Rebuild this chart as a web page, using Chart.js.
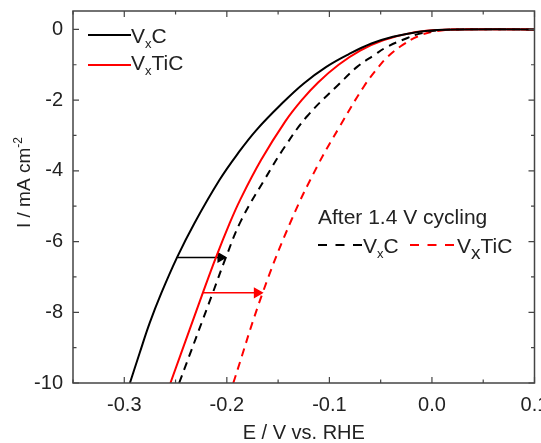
<!DOCTYPE html>
<html>
<head>
<meta charset="utf-8">
<script src="https://cdn.jsdelivr.net/npm/chart.js@4.4.0/dist/chart.umd.min.js"></script>
<style>
  html, body { margin: 0; padding: 0; background: #fff; }
  #wrap { width: 541px; height: 443px; }
</style>
</head>
<body>
<div id="wrap"><canvas id="lsvChart"></canvas></div>
<script>
// tick labels / tick positions
var xTicks = [-0.3, -0.2, -0.1, 0.0, 0.1];
var xMinorTicks = [-0.35, -0.25, -0.15, -0.05, 0.05];
var yTicks = [0, -2, -4, -6, -8, -10];
var yMinorTicks = [-1, -3, -5, -7, -9];

// VxC (solid black)
var vxcE = [-0.2945, -0.2850, -0.2752, -0.2639, -0.2484, -0.2316, -0.2072, -0.1890, -0.1710, -0.1460, -0.1250, -0.1030, -0.0810, -0.0590, -0.0380, -0.0150, 0.005, 0.025, 0.100];
var vxcI = [-10, -9.15, -8.30, -7.46, -6.44, -5.48, -4.26, -3.50, -2.84, -2.09, -1.53, -1.06, -0.70, -0.40, -0.21, -0.08, -0.02, 0, 0];

// VxTiC (solid red)
var vxticE = [-0.2550, -0.2235, -0.2105, -0.1975, -0.1870, -0.1665, -0.1430, -0.1270, -0.1110, -0.0910, -0.0700, -0.0470, -0.0200, 0.003, 0.022, 0.100];
var vxticI = [-10, -7.46, -6.44, -5.50, -4.82, -3.69, -2.60, -2.00, -1.50, -1.00, -0.60, -0.30, -0.10, -0.02, 0, 0];

// after 1.4 V cycling, VxC (dashed black)
var vxcCycE = [-0.2465, -0.2138, -0.2008, -0.1860, -0.1635, -0.1435, -0.1215, -0.0900, -0.0730, -0.0565, -0.0435, -0.0245, -0.0105, 0.009, 0.027, 0.100];
var vxcCycI = [-10, -7.46, -6.44, -5.40, -4.26, -3.32, -2.45, -1.53, -1.06, -0.73, -0.49, -0.25, -0.11, -0.02, 0, 0];

// after 1.4 V cycling, VxTiC (dashed red)
var vxticCycE = [-0.1937, -0.1652, -0.1370, -0.1120, -0.0900, -0.0665, -0.0520, -0.0430, -0.0285, -0.0140, 0.004, 0.028, 0.100];
var vxticCycI = [-10, -7.46, -5.39, -3.88, -2.75, -1.62, -1.06, -0.77, -0.44, -0.20, -0.05, 0, 0];

// shift arrows
var arrowBlackE = [-0.248, -0.206];
var arrowBlackI = [-6.45, -6.45];
var arrowRedE = [-0.2235, -0.1705];
var arrowRedI = [-7.45, -7.45];

function pts(xs, ys) {
    return xs.map(function (x, i) { return { x: x, y: ys[i] }; });
}

var FONT = "'Liberation Sans', Arial, sans-serif";
var TXT = '#222';

// draw text with subscripts, parts = [text, size, dy]
function drawParts(ctx, x, y, parts) {
    parts.forEach(function (p) {
        ctx.font = p[1] + 'px ' + FONT;
        ctx.fillText(p[0], x, y + p[2]);
        x += ctx.measureText(p[0]).width;
    });
    return x;
}

var framePlugin = {
    id: 'framePlugin',
    afterDatasetsDraw: function (chart) {
        var ctx = chart.ctx, a = chart.chartArea;
        var xs = chart.scales.x, ys = chart.scales.y;
        ctx.save();

        // frame
        ctx.strokeStyle = '#444';
        ctx.lineWidth = 1.5;
        ctx.strokeRect(a.left, a.top, a.right - a.left, a.bottom - a.top);

        // inward ticks on all four sides
        ctx.lineWidth = 1.2;
        ctx.beginPath();
        function xt(v, len) {
            var p = xs.getPixelForValue(v);
            ctx.moveTo(p, a.bottom); ctx.lineTo(p, a.bottom - len);
            ctx.moveTo(p, a.top); ctx.lineTo(p, a.top + len);
        }
        function yt(v, len) {
            var p = ys.getPixelForValue(v);
            ctx.moveTo(a.left, p); ctx.lineTo(a.left + len, p);
            ctx.moveTo(a.right, p); ctx.lineTo(a.right - len, p);
        }
        xTicks.forEach(function (v) { xt(v, 6); });
        xMinorTicks.forEach(function (v) { xt(v, 3.5); });
        yTicks.forEach(function (v) { yt(v, 6); });
        yMinorTicks.forEach(function (v) { yt(v, 3.5); });
        ctx.stroke();

        // y axis title with superscript
        ctx.fillStyle = TXT;
        ctx.textBaseline = 'alphabetic';
        ctx.textAlign = 'left';
        ctx.save();
        ctx.translate(30, 228);
        ctx.rotate(-Math.PI / 2);
        drawParts(ctx, 0, 0, [['I / mA cm', 19, 0], ['-2', 12, -8]]);
        ctx.restore();

        // legend top left
        ctx.lineWidth = 2;
        ctx.setLineDash([]);
        ctx.strokeStyle = '#000';
        ctx.beginPath(); ctx.moveTo(88, 35); ctx.lineTo(131, 35); ctx.stroke();
        ctx.strokeStyle = '#ff0000';
        ctx.beginPath(); ctx.moveTo(88, 65); ctx.lineTo(131, 65); ctx.stroke();
        drawParts(ctx, 131, 42.5, [['V', 21, 0], ['x', 13, 5], ['C', 21, 0]]);
        drawParts(ctx, 131, 69.5, [['V', 21, 0], ['x', 13, 5], ['TiC', 21, 0]]);

        // legend after cycling
        ctx.font = '21px ' + FONT;
        ctx.fillText('After 1.4 V cycling', 318, 224);
        ctx.setLineDash([9, 8.5]);
        ctx.strokeStyle = '#000';
        ctx.beginPath(); ctx.moveTo(318, 245); ctx.lineTo(363, 245); ctx.stroke();
        ctx.strokeStyle = '#ff0000';
        ctx.beginPath(); ctx.moveTo(410, 245); ctx.lineTo(457, 245); ctx.stroke();
        drawParts(ctx, 363, 253, [['V', 21, 0], ['x', 13, 5], ['C', 21, 0]]);
        drawParts(ctx, 457, 253, [['V', 21, 0], ['x', 19, 6], ['TiC', 21, 0]]);

        ctx.restore();
    }
};

var ctx = document.getElementById('lsvChart').getContext('2d');

var lsvChart = new Chart(ctx, {
    type: 'line',
    data: {
        datasets: [{
            label: 'VxC',
            data: pts(vxcE, vxcI),
            borderColor: '#000',
            borderWidth: 2
        }, {
            label: 'VxTiC',
            data: pts(vxticE, vxticI),
            borderColor: '#ff0000',
            borderWidth: 2
        }, {
            label: 'VxC after 1.4 V cycling',
            data: pts(vxcCycE, vxcCycI),
            borderColor: '#000',
            borderWidth: 2,
            borderDash: [8, 6]
        }, {
            label: 'VxTiC after 1.4 V cycling',
            data: pts(vxticCycE, vxticCycI),
            borderColor: '#ff0000',
            borderWidth: 2,
            borderDash: [8, 6]
        }, {
            label: 'shift black',
            data: pts(arrowBlackE, arrowBlackI),
            borderColor: '#000',
            backgroundColor: '#000',
            borderWidth: 1.5,
            tension: 0,
            pointRadius: [0, 5],
            pointStyle: 'triangle',
            pointRotation: 90
        }, {
            label: 'shift red',
            data: pts(arrowRedE, arrowRedI),
            borderColor: '#ff0000',
            backgroundColor: '#ff0000',
            borderWidth: 1.5,
            tension: 0,
            pointRadius: [0, 5],
            pointStyle: 'triangle',
            pointRotation: 90
        }]
    },
    options: {
        responsive: true,
        maintainAspectRatio: false,
        animation: false,
        layout: { padding: { left: 0, top: 11, right: 5, bottom: 0 } },
        elements: {
            point: { radius: 0, hoverRadius: 0 },
            line: { tension: 0.4, fill: false }
        },
        plugins: {
            legend: { display: false },
            tooltip: { enabled: false }
        },
        scales: {
            x: {
                type: 'linear',
                min: -0.35,
                max: 0.1,
                grid: { display: false, drawTicks: false },
                border: { display: false },
                afterBuildTicks: function (s) {
                    s.ticks = xTicks.map(function (v) { return { value: v }; });
                },
                afterFit: function (s) {
                    s.height = 60;
                    s.paddingLeft = 0; s.paddingRight = 0;
                },
                ticks: {
                    padding: 10,
                    color: TXT,
                    font: { family: FONT, size: 20 },
                    callback: function (v) { return Number(v).toFixed(1); }
                },
                title: {
                    display: true,
                    text: 'E / V vs. RHE',
                    color: TXT,
                    font: { family: FONT, size: 20, lineHeight: 1.0 },
                    padding: { top: 0, bottom: 0 }
                }
            },
            y: {
                type: 'linear',
                min: -10,
                max: 0.52,
                grid: { display: false, drawTicks: false },
                border: { display: false },
                afterBuildTicks: function (s) {
                    s.ticks = yTicks.map(function (v) { return { value: v }; });
                },
                afterFit: function (s) {
                    s.width = 73;
                    s.paddingTop = 0; s.paddingBottom = 0;
                },
                ticks: {
                    padding: 10,
                    color: TXT,
                    font: { family: FONT, size: 20 },
                    callback: function (v) { return String(v); }
                }
            }
        }
    },
    plugins: [framePlugin]
});
</script>
</body>
</html>
